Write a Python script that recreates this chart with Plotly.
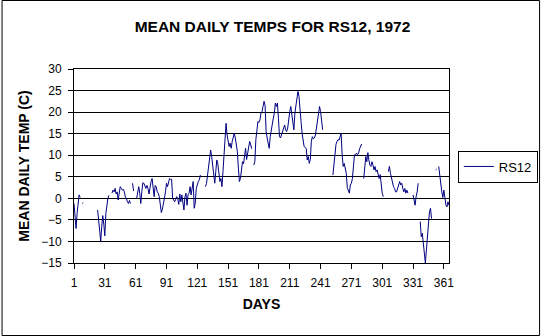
import plotly.graph_objects as go

# Day numbers 1..366 (1972 is a leap year)
days = list(range(1, 367))

# Mean daily temperature (C) for RS12, 1972 -- None = missing day
temps = [
    -1.2, -4.5, -7.0, -3.5, -1.0, 0.8, 0.2, None, -1.2, -1.0,          # 1-10
    None, None, None, None, None, None, None, None, None, None,          # 11-20
    None, None, None, -2.7, -5.5, -8.5, -10.0, -6.5, -4.0, -6.0,         # 21-30
    -8.7, -3.5, -1.5, 0.0, 0.7, None, None, 1.2, 1.9, 1.5,               # 31-40
    2.3, 1.0, 1.5, -0.4, 0.8, 2.7, 2.3, 1.9, 2.1, 1.5,                   # 41-50
    0.3, 0.0, -0.8, -1.2, -0.5, -1.2, None, 3.5, 1.7, None,              # 51-60
    None, 0.0, 2.0, 2.7, 1.2, -1.2, 1.5, 3.6, 3.5, 2.7,                  # 61-70
    2.3, 3.0, 2.3, 1.0, 2.7, 3.9, 4.6, 1.5, 0.4, 3.0,                    # 71-80
    2.7, 1.5, 1.2, 0.4, -1.2, -3.3, -2.5, -1.5, 0.0, 1.5,                # 81-90
    3.5, 2.7, 3.9, 4.6, 4.4, 4.4, 0.0, -0.5, -0.8, -0.2,                 # 91-100
    0.4, -0.2, -1.4, 1.0, -0.8, 0.8, -0.5, -2.7, 0.4, 1.2,               # 101-110
    -1.6, 0.8, 1.2, 2.7, 0.8, 2.7, 3.9, -2.3, -1.2, 2.3,                 # 111-120
    3.5, 3.9, 4.3, 5.4, None, None, None, None, 2.7, 3.5,                # 121-130
    5.4, 7.7, 9.7, 11.2, 9.7, 7.0, 4.6, 3.5, 6.2, 8.9,                   # 131-140
    8.0, 5.4, 3.9, 4.6, 2.7, 6.2, 10.8, 14.0, 17.4, 14.7,                # 141-150
    13.2, 12.0, 12.8, 11.6, 13.2, 14.7, 15.1, 14.0, 12.8, 10.8,          # 151-160
    7.0, 3.9, 4.6, 6.2, 8.5, 8.0, 10.8, 11.6, 9.0, 10.8,                 # 161-170
    12.4, 13.2, 12.4, 11.5, None, 7.7, 8.5, 13.6, 16.7, 17.8,            # 171-180
    17.6, 18.2, 19.8, 20.1, 21.3, 22.5, 21.5, 15.5, 14.0, 12.8,          # 181-190
    11.6, 14.3, 15.9, 17.8, 18.6, 19.8, 22.1, 21.3, 22.1, 18.6,          # 191-200
    14.3, 14.0, 14.7, 15.5, 16.3, 17.0, 15.9, 15.5, 16.3, 19.0,          # 201-210
    20.1, 21.3, 19.4, 17.0, 15.9, 19.8, 21.3, 23.3, 24.8, 23.6,          # 211-220
    19.8, 17.8, 15.1, 13.6, 12.0, 11.8, 11.6, 8.9, 9.7, 8.1,             # 221-230
    9.0, 13.2, 14.3, 13.8, 14.0, 14.7, 16.7, 18.6, 20.1, 21.3,           # 231-240
    20.1, 17.8, 15.9, None, None, None, None, None, None, None,          # 241-250
    None, None, 5.4, 8.5, 11.0, 12.5, 13.2, 13.6, 13.5, 14.7,            # 251-260
    15.1, 10.1, 7.4, 8.1, 7.0, 5.8, 2.5, 1.5, 1.2, 3.1,                  # 261-270
    3.5, 4.6, 8.5, 10.1, 10.1, 10.5, 10.1, 10.5, 11.5, 12.0,             # 271-280
    12.6, None, 4.6, 7.4, 9.7, 8.5, 10.6, 8.9, 7.7, 7.4,                 # 281-290
    8.5, 7.7, 6.6, 7.4, 6.2, 6.6, 5.8, 4.6, 5.5, 3.0,                    # 291-300
    1.2, 0.4, None, None, None, None, 6.2, 7.4, 5.8, 4.6,                # 301-310
    3.5, 2.7, 2.3, 1.5, 1.5, 2.3, 3.5, 3.9, 3.1, 3.5,                    # 311-320
    2.3, 1.5, 2.3, 1.2, 1.9, 1.2, None, None, None, None,                # 321-330
    0.8, -0.5, -1.6, 0.4, 1.5, 3.5, None, -5.4, -8.9, -8.1,              # 331-340
    -10.5, -13.2, -15.0, -12.0, -8.5, -5.0, -3.1, -2.3, -4.7, None,      # 341-350
    None, None, 6.6, 6.8, None, 7.4, 5.0, 3.5, 1.5, 0.2,                 # 351-360
    1.9, 0.2, -1.6, -2.0, -0.8, -1.6,                                    # 361-366
]

x_tick_labels = ["1", "31", "61", "91", "121", "151", "181", "211", "241", "271", "301", "331", "361"]
y_tick_values = [-15, -10, -5, 0, 5, 10, 15, 20, 25, 30]

series_name = "RS12"
title_text = "MEAN DAILY TEMPS FOR RS12, 1972"
x_title = "DAYS"
y_title = "MEAN DAILY TEMP (C)"

FONT = "Liberation Sans, Arial, sans-serif"
W, H = 550, 336
L, R, T, B = 74, 93, 69, 73
pw, ph = W - L - R, H - T - B

fig = go.Figure()
fig.add_trace(go.Scatter(
    x=days, y=temps, name=series_name, mode="lines",
    line=dict(color="#000080", width=1), connectgaps=False,
    showlegend=True,
))

axis_common = dict(
    showline=True, linecolor="black", linewidth=1, mirror=True,
    ticks="outside", ticklen=5, tickcolor="black", tickwidth=1,
    tickfont=dict(family=FONT, size=12, color="black"),
    zeroline=False,
)

fig.update_layout(
    width=W, height=H,
    margin=dict(l=L, r=R, t=T, b=B, pad=0),
    paper_bgcolor="white", plot_bgcolor="white",
    font=dict(family=FONT, color="black"),
    title=dict(text="<b>" + title_text + "</b>", x=272.5 / W, xref="container", xanchor="center",
               y=1 - 27 / H, yref="container", yanchor="middle",
               font=dict(family=FONT, size=15.5, color="black")),
    xaxis=dict(
        range=[1, 366], tickmode="array",
        tickvals=[int(t) for t in x_tick_labels], ticktext=x_tick_labels,
        showgrid=False,
        title=dict(text="<b>" + x_title + "</b>", font=dict(family=FONT, size=14, color="black"), standoff=9),
        ticklabelstandoff=4,
        **axis_common,
    ),
    yaxis=dict(
        range=[-15, 30], tickmode="array", tickvals=y_tick_values,
        showgrid=True, gridcolor="black", gridwidth=1,
        title=dict(text="<b>" + y_title + "</b>", font=dict(family=FONT, size=14, color="black"), standoff=8),
        ticklabelstandoff=4,
        **axis_common,
    ),
    legend=dict(
        x=(466 - L) / pw, xanchor="left", y=(H - B - 166.5) / ph, yanchor="middle",
        bordercolor="black", borderwidth=1, bgcolor="white",
        font=dict(family=FONT, size=13, color="black"),
        itemwidth=30, tracegroupgap=0,
    ),
    shapes=[dict(
        type="rect", xref="paper", yref="paper",
        x0=(0.5 - L) / pw, x1=(W - 0.5 - L) / pw,
        y0=-(B - 0.5) / ph, y1=(H - 0.5 - B) / ph,
        line=dict(color="black", width=1), fillcolor="rgba(0,0,0,0)", layer="above",
    )],
)

fig.write_html("out.html")
